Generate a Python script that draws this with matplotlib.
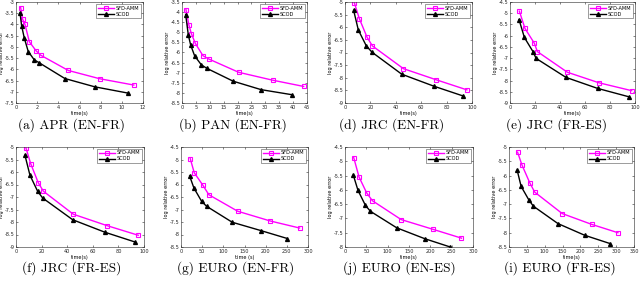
import matplotlib
matplotlib.use("Agg")
import matplotlib.pyplot as plt
from matplotlib.ticker import FormatStrFormatter

plt.rcParams['axes.unicode_minus'] = False
plt.rcParams['font.family'] = 'DejaVu Sans'

# ---- data (time in s, log relative error) ----
apr_sfd_t = [0.44, 0.63, 0.85, 1.26, 1.89, 2.33, 4.94, 7.92, 11.13]
apr_sfd_e = [-3.25, -3.77, -4.0, -4.77, -5.17, -5.37, -6.05, -6.42, -6.70]
apr_scod_t = [0.38, 0.53, 0.79, 1.16, 1.73, 2.2, 4.62, 7.45, 10.6]
apr_scod_e = [-3.49, -4.06, -4.62, -5.21, -5.58, -5.71, -6.41, -6.78, -7.06]

pan_sfd_t = [1.44, 2.5, 3.36, 4.8, 7.56, 9.6, 20.4, 32.6, 43.8]
pan_sfd_e = [-3.88, -4.65, -5.06, -5.55, -6.16, -6.32, -6.98, -7.37, -7.68]
pan_scod_t = [1.32, 2.28, 3.12, 4.56, 6.96, 8.88, 18.4, 28.5, 39.6]
pan_scod_e = [-4.12, -5.14, -5.63, -6.17, -6.61, -6.78, -7.42, -7.84, -8.09]

jrc_enfr_sfd_t = [7.4, 11.3, 17.4, 21.6, 46, 71.8, 96]
jrc_enfr_sfd_e = [-5.04, -5.66, -6.40, -6.74, -7.64, -8.08, -8.48]
jrc_enfr_scod_t = [6.8, 10.5, 16.8, 21.3, 44.7, 70.3, 92.9]
jrc_enfr_scod_e = [-5.33, -6.11, -6.74, -6.99, -7.86, -8.34, -8.72]

jrc_fres_sfd_t = [7.5, 12, 19.5, 21.9, 45.9, 71.2, 97.3]
jrc_fres_sfd_e = [-4.91, -5.68, -6.34, -6.71, -7.63, -8.1, -8.45]
jrc_fres_scod_t = [7.2, 11.5, 18.7, 20.8, 44.8, 70.1, 94.9]
jrc_fres_scod_e = [-5.28, -6.08, -6.74, -7.01, -7.86, -8.35, -8.72]

jrc_fres2_sfd_t = [7.8, 11.5, 17.4, 21.4, 44.8, 71.4, 95.5]
jrc_fres2_sfd_e = [-5.04, -5.67, -6.43, -6.77, -7.69, -8.15, -8.53]
jrc_fres2_scod_t = [7.0, 10.9, 16.9, 20.8, 44.3, 69.5, 93]
jrc_fres2_scod_e = [-5.33, -6.13, -6.77, -7.04, -7.91, -8.41, -8.8]

euro_enfr_sfd_t = [21.9, 31.3, 51.7, 65.8, 134, 211, 280]
euro_enfr_sfd_e = [-4.97, -5.53, -6.03, -6.41, -7.07, -7.46, -7.74]
euro_enfr_scod_t = [20.4, 30.5, 48.6, 60.3, 121, 188, 251]
euro_enfr_scod_e = [-5.66, -6.14, -6.67, -6.87, -7.51, -7.84, -8.16]

euro_enes_sfd_t = [20.4, 32.9, 50.9, 64.2, 131.6, 206, 273]
euro_enes_sfd_e = [-4.87, -5.55, -6.11, -6.38, -7.04, -7.38, -7.69]
euro_enes_scod_t = [19.6, 30.5, 47.8, 59.5, 121.4, 187, 246.7]
euro_enes_scod_e = [-5.49, -6.02, -6.54, -6.75, -7.33, -7.71, -8.0]

euro_fres_sfd_t = [24, 36, 58, 72, 149, 232, 305]
euro_fres_sfd_e = [-5.18, -5.62, -6.25, -6.58, -7.33, -7.71, -8.0]
euro_fres_scod_t = [23, 34, 55, 68, 137, 212, 283]
euro_fres_scod_e = [-5.82, -6.38, -6.84, -7.07, -7.68, -8.09, -8.38]

captions = ['(a) APR (EN-FR)', '(b) PAN (EN-FR)', '(d) JRC (EN-FR)', '(e) JRC (FR-ES)',
            '(f) JRC (FR-ES)', '(g) EURO (EN-FR)', '(j) EURO (EN-ES)', '(i) EURO (FR-ES)']
x_labels = ['time(s)', 'time(s)', 'time(s)', 'time(s)', 'time(s)', 'time (s)', 'time(s)', 'time(s)']

panels = [
    (apr_sfd_t, apr_sfd_e, apr_scod_t, apr_scod_e, (0, 12, 2), (-7.5, -3, 0.5)),
    (pan_sfd_t, pan_sfd_e, pan_scod_t, pan_scod_e, (0, 45, 5), (-8.5, -3.5, 0.5)),
    (jrc_enfr_sfd_t, jrc_enfr_sfd_e, jrc_enfr_scod_t, jrc_enfr_scod_e, (0, 100, 20), (-9, -5, 0.5)),
    (jrc_fres_sfd_t, jrc_fres_sfd_e, jrc_fres_scod_t, jrc_fres_scod_e, (0, 100, 20), (-9, -4.5, 0.5)),
    (jrc_fres2_sfd_t, jrc_fres2_sfd_e, jrc_fres2_scod_t, jrc_fres2_scod_e, (0, 100, 20), (-9, -5, 0.5)),
    (euro_enfr_sfd_t, euro_enfr_sfd_e, euro_enfr_scod_t, euro_enfr_scod_e, (0, 300, 50), (-8.5, -4.5, 0.5)),
    (euro_enes_sfd_t, euro_enes_sfd_e, euro_enes_scod_t, euro_enes_scod_e, (0, 300, 50), (-8, -4.5, 0.5)),
    (euro_fres_sfd_t, euro_fres_sfd_e, euro_fres_scod_t, euro_fres_scod_e, (0, 350, 50), (-8.5, -5, 0.5)),
]

W, H = 640, 285
fig = plt.figure(figsize=(6.4, 2.85), dpi=100, facecolor='white')

# axes boxes in pixels (left, top, right, bottom)
boxes = [(16, 2, 143, 103), (182, 2, 307, 103), (345, 2, 472, 103), (510, 2, 635, 103),
         (16, 147, 144, 247), (181, 147, 308, 247), (345, 147, 473, 247), (509, 147, 634, 247)]
cap_pos = [(71, 125), (233, 125), (392, 125), (556, 125),
           (72, 268), (236, 268), (399, 268), (560, 268)]

fs = 3.6
for i, (st, se, ct, ce, xr, yr) in enumerate(panels):
    l, t, r, b = boxes[i]
    ax = fig.add_axes([l / W, 1 - b / H, (r - l) / W, (b - t) / H])
    ax.plot(st, se, color='#FF00FF', marker='s', markersize=3, markerfacecolor='none',
            markeredgewidth=0.8, linewidth=1.0, label='SFD-AMM')
    ax.plot(ct, ce, color='black', marker='^', markersize=2.8, linewidth=1.0, label='SCOD')
    ax.set_xlim(xr[0], xr[1])
    ax.set_ylim(yr[0], yr[1])
    xt = list(range(xr[0], xr[1] + 1, xr[2]))
    ax.set_xticks(xt)
    n = int(round((yr[1] - yr[0]) / yr[2]))
    ax.set_yticks([yr[0] + k * yr[2] for k in range(n + 1)])
    ax.yaxis.set_major_formatter(FormatStrFormatter('%g'))
    ax.tick_params(direction='in', length=1.5, width=0.4, labelsize=fs, pad=1.2,
                   top=True, right=True, colors='#262626')
    for sp in ax.spines.values():
        sp.set_linewidth(0.4)
        sp.set_color('#262626')
    ax.set_xlabel(x_labels[i], fontsize=fs, labelpad=1.2)
    ax.set_ylabel('log relative error', fontsize=fs)
    ax.yaxis.set_label_coords(-0.095, 0.5)
    leg = ax.legend(loc='upper right', fontsize=fs, frameon=True, fancybox=False,
                    borderpad=0.3, handlelength=3.2, handletextpad=0.4, labelspacing=0.2,
                    borderaxespad=0.4)
    leg.get_frame().set_linewidth(0.4)
    leg.get_frame().set_edgecolor('#262626')
    cx, cy = cap_pos[i]
    fig.text(cx / W, 1 - cy / H, captions[i], ha='center', va='center',
             fontsize=9.6, family='cmr10')

fig.savefig('out.png', dpi=100, facecolor='white')
